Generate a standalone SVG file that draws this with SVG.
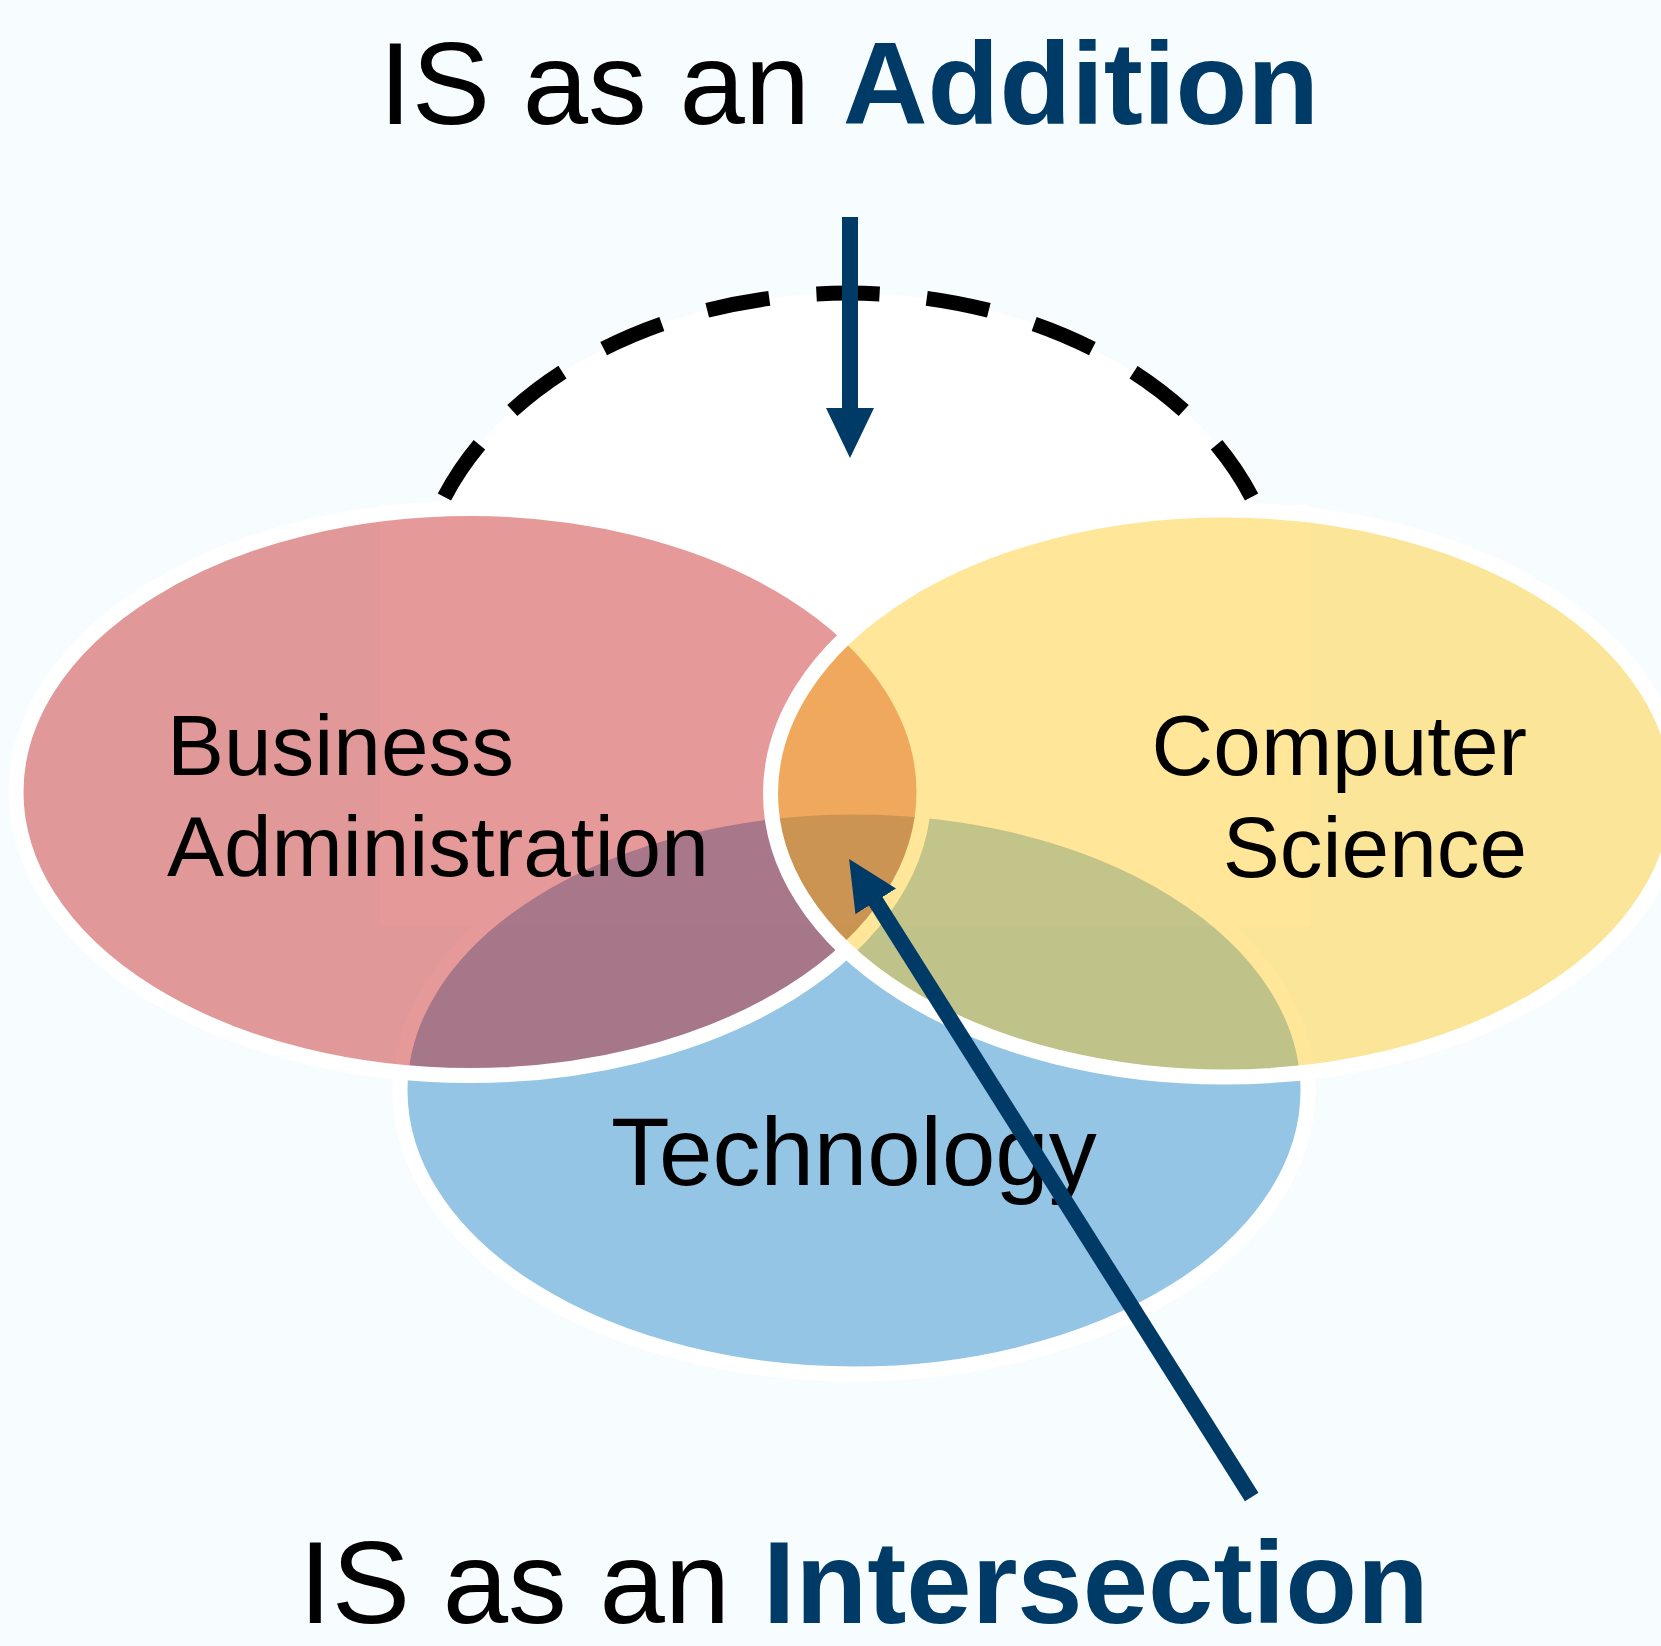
<svg xmlns="http://www.w3.org/2000/svg" width="1661" height="1646" viewBox="0 0 1661 1646">
  <style>
    .venn { stroke: #FFFFFF; stroke-width: 15; }
    .lbl { font-family: "Liberation Sans", Arial, sans-serif; fill: #000000; }
    .title { font-family: "Liberation Sans", Arial, sans-serif; font-size: 117.5px; fill: #000000; }
    .hi { font-weight: bold; fill: #003A66; }
    .conn { stroke: #003A66; stroke-width: 16; fill: none; stroke-linecap: butt; marker-end: url(#ah); }
  </style>
  <defs>
    <marker id="ah" markerUnits="userSpaceOnUse" viewBox="0 0 50 48" markerWidth="50" markerHeight="48" refX="2" refY="24" orient="auto">
      <path d="M0,0 L50,24 L0,48 Z" fill="#003A66"/>
    </marker>
  </defs>
  <rect id="background" x="0" y="0" width="1661" height="1646" fill="#F7FDFE"/>
  <rect id="backdrop" x="380" y="505" width="930" height="421" fill="#FFFFFF"/>
  <g id="addition-arc">
    <path d="M444.4,497 A432,317 0 0 1 1251.6,497 L1251.6,510 L444.4,510 Z" fill="#FFFFFF" stroke="none"/>
    <path d="M444.4,497 A432,317 0 0 1 1251.6,497" fill="none" stroke="#000000" stroke-width="15" pathLength="1000" stroke-dasharray="66.67 50"/>
  </g>
  <g id="technology">
    <ellipse class="venn" cx="854" cy="1090.5" rx="454" ry="283.5" fill="#0070C0" fill-opacity="0.4"/>
    <text class="lbl" x="611" y="1185" font-size="96">Technology</text>
  </g>
  <g id="business-administration">
    <ellipse class="venn" cx="470" cy="792" rx="454" ry="283.5" fill="#C00000" fill-opacity="0.4"/>
  </g>
  <g id="computer-science">
    <ellipse class="venn" cx="1224.5" cy="793.5" rx="454" ry="283.5" fill="#FFC000" fill-opacity="0.4"/>
  </g>
  <g id="labels">
    <text class="lbl" font-size="85.5"><tspan x="167" y="775">Business</tspan><tspan x="167" y="876">Administration</tspan></text>
    <text class="lbl" font-size="85.5" text-anchor="end"><tspan x="1527" y="775">Computer</tspan><tspan x="1527" y="877">Science</tspan></text>
  </g>
  <g id="title-addition">
    <text class="title" x="379" y="124">IS as an <tspan class="hi">Addition</tspan></text>
  </g>
  <g id="title-intersection">
    <text class="title" x="299" y="1623">IS as an <tspan class="hi">Intersection</tspan></text>
  </g>
  <g id="connectors">
    <line class="conn" x1="850" y1="217" x2="850" y2="410"/>
    <line class="conn" x1="1251.7" y1="1497" x2="874.7" y2="899.7"/>
  </g>
</svg>
